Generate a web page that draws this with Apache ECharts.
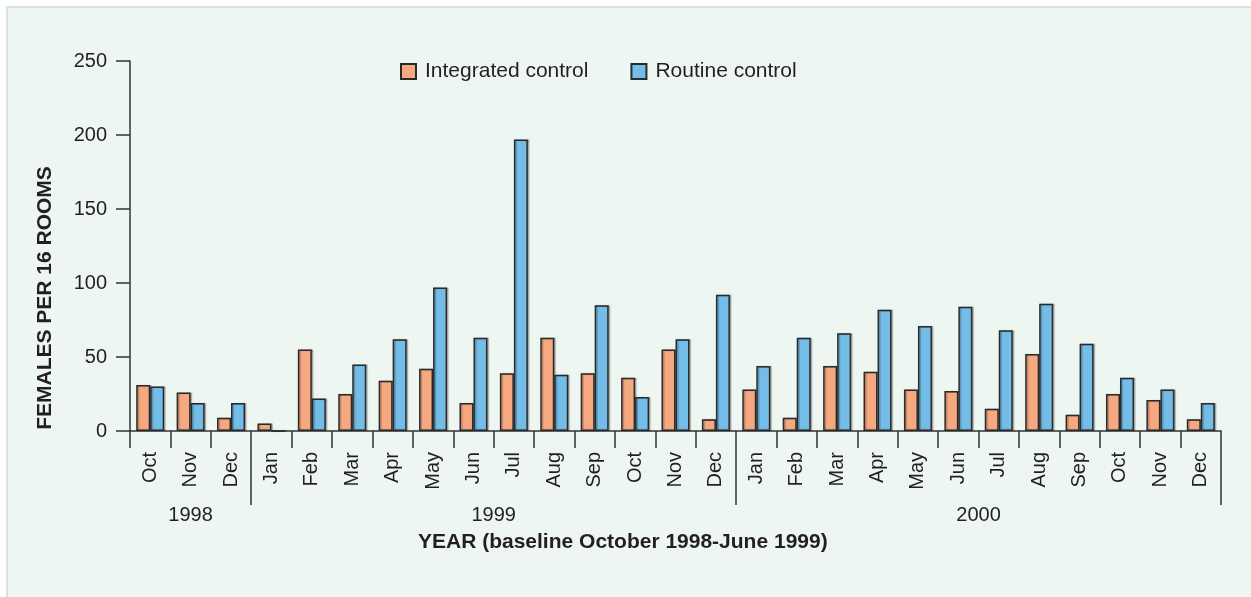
<!DOCTYPE html>
<html>
<head>
<meta charset="utf-8">
<script src="https://cdn.jsdelivr.net/npm/echarts@6/dist/echarts.min.js"></script>
<style>
html,body{margin:0;padding:0;background:#fff;}
#chart{width:1251px;height:597px;}
</style>
</head>
<body>
<div id="chart"></div>
<script>
const months = ['Oct','Nov','Dec','Jan','Feb','Mar','Apr','May','Jun','Jul','Aug','Sep','Oct','Nov','Dec','Jan','Feb','Mar','Apr','May','Jun','Jul','Aug','Sep','Oct','Nov','Dec'];
const integrated = [31,26,9,5,55,25,34,42,19,39,63,39,36,55,8,28,9,44,40,28,27,15,52,11,25,21,8];
const routine = [30,19,19,0,22,45,62,97,63,197,38,85,23,62,92,44,63,66,82,71,84,68,86,59,36,28,19];
const years = ['1998','1999','2000'];
const monthsInYear = [3,12,12];
const yTicks = [0,50,100,150,200,250];

// year group boundaries and centers (in category units)
const boundaries = [];
const centers = [];
let acc = 0;
monthsInYear.forEach((n,i)=>{ centers.push(acc + n/2); acc += n; if(i < monthsInYear.length-1) boundaries.push(acc); });

const FONT = 'Liberation Sans';
const TXT = '#231F20';
const AX = '#333333';

const chart = echarts.init(document.getElementById('chart'), null, {renderer:'canvas'});
chart.setOption({
  backgroundColor:'#ffffff',
  animation:false,
  textStyle:{fontFamily:FONT,color:TXT},
  graphic:[
    {type:'rect', z:-100, shape:{x:7,y:7,width:1260,height:600}, style:{fill:'#EDF6F1',stroke:'#DCE1DE',lineWidth:2}},
    {type:'text', x:45, y:298, rotation:Math.PI/2, style:{text:'FEMALES PER 16 ROOMS', font:'bold 21px "Liberation Sans"', fill:TXT, align:'center', verticalAlign:'middle'}}
  ],
  title:{text:'YEAR (baseline October 1998-June 1999)', left:418, top:532, padding:0,
    textStyle:{fontFamily:FONT,fontSize:21,fontWeight:'bold',color:TXT}},
  legend:{left:400, top:61, padding:0, itemWidth:15, itemHeight:15, itemGap:42, icon:'rect',
    textStyle:{fontFamily:FONT,fontSize:21,color:TXT,padding:[0,0,0,4]},
    data:['Integrated control','Routine control']},
  grid:{left:130, right:30, top:61, bottom:166, containLabel:false},
  xAxis:[
    {type:'category', data:months, boundaryGap:true,
      axisLine:{lineStyle:{color:AX,width:1.5}},
      axisTick:{show:true,length:17,lineStyle:{color:AX,width:1.5}},
      axisLabel:{rotate:90, fontSize:20, margin:21, color:TXT, fontFamily:FONT, interval:0}},
    {type:'category', data:months, boundaryGap:true, position:'bottom',
      axisLine:{show:false},
      axisTick:{show:true,length:74,interval:function(i){return boundaries.indexOf(i)>=0;},lineStyle:{color:AX,width:1.5}},
      axisLabel:{show:false}},
    {type:'value', min:0, max:months.length, interval:1.5, position:'bottom',
      axisLine:{show:false}, axisTick:{show:false}, splitLine:{show:false},
      axisLabel:{margin:74, fontSize:20, color:TXT, fontFamily:FONT, showMinLabel:true, showMaxLabel:true,
        formatter:function(v){ for(let i=0;i<centers.length;i++){ if(Math.abs(centers[i]-v)<1e-6) return years[i]; } return ''; }}}
  ],
  yAxis:{type:'value', min:0, max:250, interval:50,
    axisLine:{show:true,lineStyle:{color:AX,width:1.5}},
    axisTick:{show:true,length:14,lineStyle:{color:AX,width:1.5}},
    splitLine:{show:false},
    axisLabel:{fontSize:20, margin:23, color:TXT, fontFamily:FONT,
      formatter:function(v){ return yTicks.indexOf(v)>=0 ? String(v) : ''; }}},
  series:[
    {name:'Integrated control', type:'bar', xAxisIndex:0, data:integrated, barWidth:14, barGap:'0%',
      itemStyle:{color:'#F6A880', borderColor:'#2A2A2A', borderWidth:1.5, shadowColor:'rgba(0,0,0,0.25)', shadowOffsetX:1.5, shadowBlur:1}},
    {name:'Routine control', type:'bar', xAxisIndex:0, data:routine, barWidth:14, barGap:'0%',
      itemStyle:{color:'#74BDE8', borderColor:'#2A2A2A', borderWidth:1.5, shadowColor:'rgba(0,0,0,0.25)', shadowOffsetX:1.5, shadowBlur:1}}
  ]
});
</script>
</body>
</html>
